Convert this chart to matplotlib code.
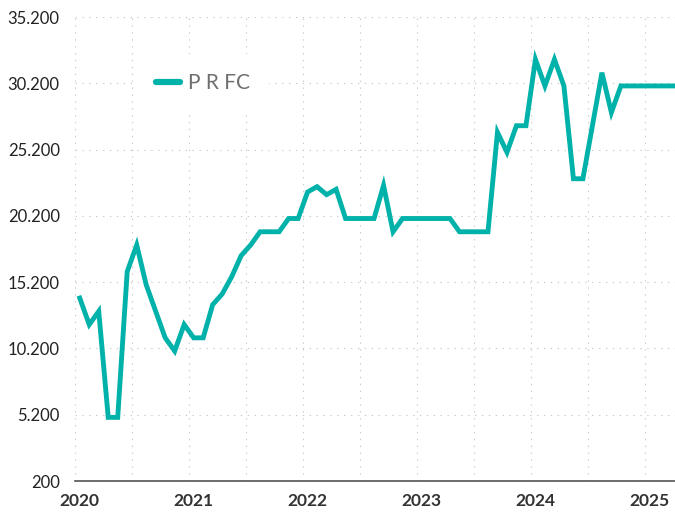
import matplotlib
matplotlib.use("Agg")
import matplotlib.pyplot as plt
from matplotlib.ticker import FixedLocator, FuncFormatter

# ---- data (monthly, Jan 2020 .. Apr 2025) ----
series_name = "P R FC"
values = [
    # 2020
    14000, 12000, 13000, 5000, 5000, 16000, 18000, 15000, 13000, 11000, 10000, 12000,
    # 2021
    11000, 11000, 13500, 14300, 15600, 17200, 18000, 19000, 19000, 19000, 20000, 20000,
    # 2022
    22000, 22400, 21800, 22200, 20000, 20000, 20000, 20000, 22500, 19000, 20000, 20000,
    # 2023
    20000, 20000, 20000, 20000, 19000, 19000, 19000, 19000, 26500, 25000, 27000, 27000,
    # 2024
    32000, 30000, 32000, 30000, 23000, 23000, 27000, 31000, 28000, 30000, 30000, 30000,
    # 2025
    30000, 30000, 30000, 30000,
]
year_labels = ["2020", "2021", "2022", "2023", "2024", "2025"]
y_ticks = [200, 5200, 10200, 15200, 20200, 25200, 30200, 35200]

plt.rcParams['font.family'] = ['Lato', 'DejaVu Sans']

fig = plt.figure(figsize=(6.75, 5.13), dpi=100)
ax = fig.add_axes([75 / 675, 1 - 481 / 513, 1 - 75 / 675, (481 - 17) / 513])

x = list(range(len(values)))
ax.plot(x, values, color='#00b2a9', lw=3.5, solid_joinstyle='miter',
        label=series_name, zorder=3, clip_on=True)

ax.yaxis.set_major_locator(FixedLocator(y_ticks))
ax.yaxis.set_major_formatter(FuncFormatter(lambda v, p: f"{v:,.0f}".replace(",", ".")))

# year labels at January of each year
year_pos = [12 * i for i in range(len(year_labels))]
ax.set_xticks(year_pos)
ax.set_xticklabels(year_labels, fontweight='bold', fontsize=12.5, color='#333333')
# gridlines every half year, between months
ax.set_xticks([i - 0.5 for i in range(0, len(values), 6)], minor=True)

ax.set_ylim(200, 35200)
ax.set_xlim(-0.5, 62.7)

ax.tick_params(axis='x', which='both', length=0, pad=9)
ax.tick_params(axis='y', which='both', length=0, pad=11, labelsize=12, labelcolor='#222222')

grid_kw = dict(color='#c8c8c8', lw=0.8, linestyle=(0, (1.2, 5)))
ax.grid(False)
ax.yaxis.grid(True, which='major', **grid_kw)
ax.xaxis.grid(True, which='minor', **grid_kw)

for s in ['top', 'right', 'left']:
    ax.spines[s].set_visible(False)
ax.spines['bottom'].set_color('#555555')
ax.spines['bottom'].set_linewidth(1.2)
ax.spines['bottom'].set_zorder(4)

leg = ax.legend(loc='center', bbox_to_anchor=(203 / 675, 1 - 83 / 513),
                bbox_transform=fig.transFigure, frameon=True, fancybox=False,
                handlelength=1.15, handletextpad=0.4, borderpad=0.9,
                prop={'size': 15}, labelcolor='#6e6e6e')
leg.get_frame().set_facecolor('white')
leg.get_frame().set_edgecolor('none')
leg.get_frame().set_alpha(1)
for h in leg.get_lines():
    h.set_linewidth(4.5)
    h.set_solid_capstyle('round')

fig.savefig('out.png', dpi=100)
